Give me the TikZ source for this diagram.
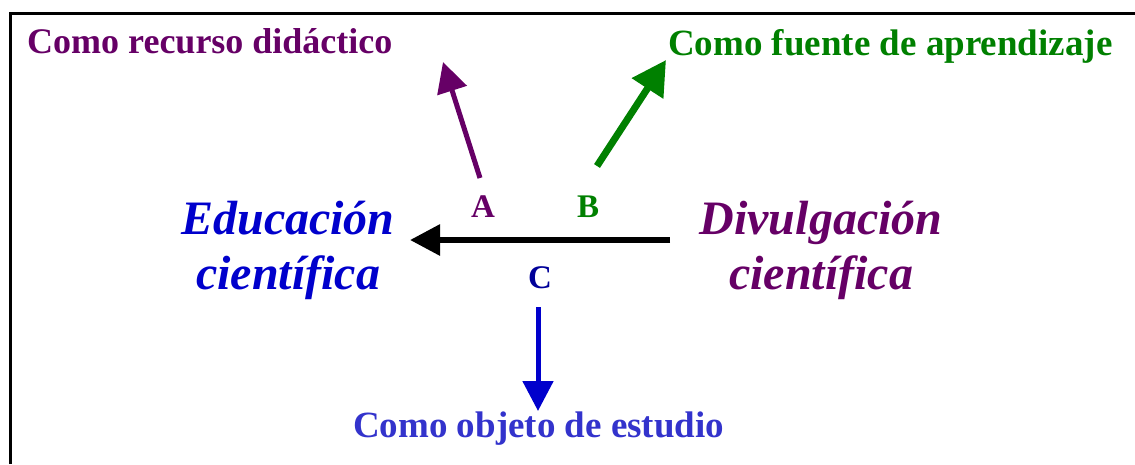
\documentclass[tikz,border=0pt]{standalone}
\usepackage{fontspec}
\setmainfont{Liberation Serif}
\usetikzlibrary{arrows.meta, positioning}

\definecolor{morado}{HTML}{660066}
\definecolor{verde}{HTML}{008000}
\definecolor{azul}{HTML}{0000CC}
\definecolor{azulclaro}{HTML}{3333CC}
\definecolor{azuloscuro}{HTML}{000099}

\begin{document}
\begin{tikzpicture}[x=1pt, y=-1pt,
        rotulo/.style={inner sep=0pt, font=\fontsize{37}{40}\selectfont\bfseries},
        letra/.style={inner sep=0pt, font=\fontsize{33}{36}\selectfont\bfseries},
        concepto/.style={inner sep=0pt, align=center, font=\fontsize{48}{55}\selectfont\bfseries\itshape},
        flecha/.style={-{Triangle[length=30pt, width=30pt]}}]

        \useasboundingbox (0,0) rectangle (1135,464);
        \draw[line width=3pt] (10,464) -- (10,13) -- (1135,13);

        % textos de arriba y abajo
        \node[rotulo, morado, anchor=base west, font=\fontsize{36}{40}\selectfont\bfseries] (recurso) at (27,53) {Como recurso didáctico};
        \node[rotulo, verde, anchor=base west] (fuente) at (668,55) {Como fuente de aprendizaje};
        \node[rotulo, azulclaro, anchor=base west] (objeto) at (353,437) {Como objeto de estudio};

        % conceptos
        \node[concepto, azul, anchor=base] (educ) at (288,289) {Educación\\científica};
        \node[concepto, morado, anchor=base] (divul) at (821,289) {Divulgación\\científica};

        % letras
        \node[letra, morado, anchor=base] (A) at (483,217) {A};
        \node[letra, verde, anchor=base] (B) at (588,217) {B};
        \node[letra, azuloscuro, anchor=base] (C) at (540,288) {C};

        \coordinate (ini) at (670,240);
        \coordinate (fin) at (410,240);
        \coordinate (a0) at (480,178);
        \coordinate (a1) at (443,62);
        \coordinate (b0) at (597,166);
        \coordinate (b1) at (666,60);
        \coordinate (c0) at (538,307);
        \coordinate (c1) at (538,411);

        \draw[flecha, line width=6pt] (ini) -- (fin);
        \draw[flecha, line width=5pt, morado] (a0) -- (a1);
        \draw[flecha, line width=7pt, verde, -{Triangle[length=34pt, width=36pt]}] (b0) -- (b1);
        \draw[flecha, line width=5pt, azul] (c0) -- (c1);

    \end{tikzpicture}
\end{document}
